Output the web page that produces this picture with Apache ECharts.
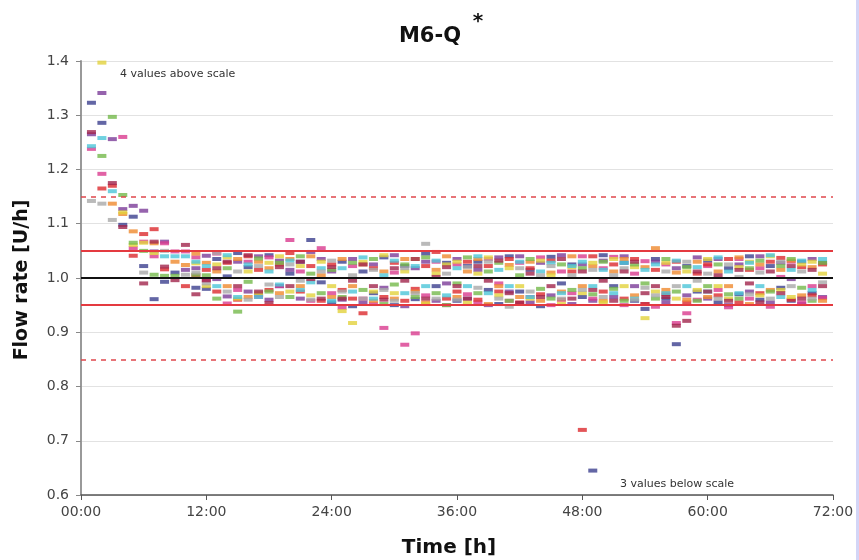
<!DOCTYPE html>
<html><head><meta charset="utf-8">
<script src="https://cdn.jsdelivr.net/npm/echarts@6/dist/echarts.min.js"></script>
<style>html,body{margin:0;padding:0;background:#fff}#c{width:859px;height:560px}</style>
</head><body><div id="c"></div>
<script>
// Time in hours (one reading per hour per device)
const hours = [0,1,2,3,4,5,6,7,8,9,10,11,12,13,14,15,16,17,18,19,20,21,22,23,24,25,26,27,28,29,30,31,32,33,34,35,36,37,38,39,40,41,42,43,44,45,46,47,48,49,50,51,52,53,54,55,56,57,58,59,60,61,62,63,64,65,66,67,68,69,70,71,72];
const xTickLabels = ['00:00','12:00','24:00','36:00','48:00','60:00','72:00'];
const yTickLabels = ['0.6','0.7','0.8','0.9','1.0','1.1','1.2','1.3','1.4'];
const nominal = 1.0;
const innerLimits = [1.05, 0.95];
const outerLimits = [1.15, 0.85];

const s0 = [null,1.323,1.286,null,1.098,1.113,1.022,0.961,0.993,1.010,null,0.982,
  0.980,1.035,1.003,1.046,1.020,0.968,1.042,0.985,1.008,1.030,1.070,0.992,
  0.955,1.030,0.948,1.012,0.972,1.038,0.950,1.022,0.961,1.045,0.985,1.028,
  0.958,1.022,1.030,0.978,0.952,1.040,0.975,1.015,0.948,1.039,0.990,1.025,
  0.965,0.645,1.042,0.985,1.028,0.958,0.943,1.035,0.962,0.878,1.022,0.975,
  1.032,0.955,1.018,0.970,1.040,0.960,1.022,0.982,0.958,1.030,0.972,1.028,null];
const s1 = [null,1.265,1.341,1.256,1.127,1.133,1.124,1.049,1.067,null,1.015,1.018,
  1.041,0.998,0.966,1.030,0.975,1.040,0.960,1.032,1.015,0.962,1.048,1.035,
  1.012,0.960,1.035,0.955,1.025,0.982,1.042,0.948,1.018,1.030,0.958,0.990,
  1.035,0.962,1.015,0.950,1.038,0.975,1.040,0.955,1.028,0.968,1.042,0.952,
  1.025,0.958,1.032,0.965,1.040,0.985,0.952,1.030,0.955,1.018,0.968,1.038,
  0.962,1.035,0.950,1.025,0.975,1.040,0.955,1.028,0.998,0.952,1.035,0.965,null];
const s2 = [null,1.238,1.192,null,1.260,1.055,1.067,1.040,1.064,1.049,1.049,1.038,
  0.995,1.045,0.953,0.978,1.030,0.965,1.038,0.985,1.070,1.012,0.958,1.055,
  0.972,0.945,1.022,0.962,0.952,0.908,1.010,0.877,0.898,0.968,1.030,0.950,
  1.025,0.970,0.955,1.035,0.990,0.958,1.028,0.965,1.038,0.950,1.012,0.972,
  1.040,0.962,1.018,1.039,0.950,1.008,1.031,0.947,1.025,0.917,0.935,0.960,
  1.022,0.978,0.946,1.035,0.962,1.018,0.947,1.002,1.030,0.955,0.985,0.963,null];
const s3 = [null,null,1.165,1.170,null,1.041,1.081,1.090,1.016,null,0.985,1.005,
  1.015,0.975,1.028,0.960,1.040,1.015,0.978,1.025,1.046,0.975,1.022,0.958,
  1.025,0.978,0.962,0.935,1.018,0.965,1.028,0.958,0.980,1.022,1.048,0.962,
  0.975,1.030,0.960,1.022,0.975,1.035,0.955,1.018,0.970,1.032,0.960,1.012,
  0.720,1.040,0.975,1.025,0.962,1.035,0.952,1.015,0.970,1.030,0.955,1.008,
  1.025,0.968,1.035,0.955,1.015,0.972,1.030,1.037,0.960,1.020,0.968,1.025,null];
const s4 = [null,null,null,1.137,1.118,1.086,null,1.064,null,1.030,1.024,1.045,
  1.028,1.012,0.985,1.035,0.965,1.030,1.018,0.972,1.035,0.985,1.040,1.005,
  0.965,1.035,0.985,1.025,0.958,1.012,0.962,1.035,0.975,0.955,1.015,1.040,
  0.965,1.012,1.035,0.952,0.985,1.024,0.965,1.030,0.958,1.010,0.975,1.040,
  0.985,1.022,0.958,1.012,1.035,0.968,1.020,1.055,0.978,1.010,0.960,1.030,
  0.965,1.012,0.985,1.038,0.952,1.025,0.978,1.015,1.032,0.968,1.020,0.958,null];
const s5 = [null,null,1.397,null,1.121,1.061,1.065,1.046,null,null,null,1.027,
  0.985,1.025,1.038,0.962,1.012,0.972,1.028,1.040,0.975,1.022,0.968,1.030,
  0.985,0.939,0.917,1.030,0.975,1.042,0.972,1.012,1.035,0.952,1.008,1.025,
  1.030,0.955,1.008,1.038,0.968,1.018,0.985,0.962,1.032,1.005,0.952,1.020,
  0.972,1.028,0.955,1.035,0.985,1.020,0.926,0.975,1.028,0.962,1.012,0.978,
  1.035,0.985,0.962,1.020,1.030,0.968,1.040,0.978,0.965,1.025,1.030,1.008,null];
const s6 = [null,null,1.225,1.297,1.153,1.065,1.050,1.006,1.004,1.004,null,1.006,
  1.005,0.962,1.018,0.938,0.993,1.036,0.975,1.028,0.965,1.040,1.008,0.972,
  1.015,0.965,1.028,0.978,1.035,0.952,0.988,1.025,0.965,1.038,0.972,0.950,
  0.990,1.038,0.972,1.012,1.028,0.958,1.005,1.035,0.980,0.962,1.025,0.978,
  1.018,0.970,1.030,0.980,0.958,1.025,0.990,0.962,1.035,0.975,1.020,0.958,
  0.985,1.025,0.970,0.962,1.018,1.032,0.975,1.022,1.035,0.982,0.958,1.028,null];
const s7 = [null,1.243,1.258,1.160,null,null,null,null,1.040,1.040,1.040,1.030,
  1.022,0.985,1.042,0.965,1.025,0.965,1.012,0.988,1.032,0.978,0.992,1.018,
  0.958,1.018,0.975,1.038,0.962,1.005,1.032,0.972,1.022,0.985,1.032,0.968,
  1.018,0.985,1.040,0.972,1.015,0.985,1.030,0.965,1.012,1.028,0.972,1.022,
  1.030,0.985,1.015,0.972,1.028,0.962,1.015,1.025,0.972,1.032,0.985,1.020,
  0.975,1.038,1.012,0.972,1.028,0.985,1.042,0.965,1.015,1.032,0.978,1.035,null];
const s8 = [null,1.142,1.137,1.107,null,null,1.010,null,1.050,null,1.006,1.010,
  0.990,1.046,0.975,1.012,0.960,1.022,0.988,0.965,1.025,0.995,0.960,1.012,
  1.032,0.975,1.005,0.962,1.015,0.978,0.958,1.018,0.972,1.063,0.962,1.008,
  0.960,1.020,0.982,1.030,0.962,0.947,1.018,0.975,1.005,1.022,0.962,1.005,
  0.978,1.015,0.965,1.005,1.018,0.960,0.982,0.968,1.012,0.985,1.030,0.995,
  1.008,0.962,1.025,1.002,0.970,1.010,0.962,1.030,0.985,1.012,0.962,0.992,null];
const s9 = [null,1.269,null,1.175,1.094,null,0.990,1.067,1.021,0.996,1.061,0.970,
  0.996,1.018,1.030,0.985,1.042,0.975,0.954,1.020,0.985,1.030,0.998,0.962,
  1.020,0.962,0.995,1.025,0.985,0.960,1.018,0.995,1.035,0.962,1.002,1.020,
  0.985,0.962,1.022,0.995,1.032,0.972,0.954,1.008,0.965,0.985,1.035,0.962,
  1.012,0.978,0.995,0.958,1.012,1.030,0.972,0.985,0.965,0.912,0.921,1.012,
  0.975,1.005,0.958,1.015,0.990,0.955,1.012,0.972,1.022,0.962,1.015,0.985,null];

const seriesValues = [s0,s1,s2,s3,s4,s5,s6,s7,s8,s9];
const colors = ['#3c408e','#7c3c98','#d93b8f','#dc2b2e','#ef8a2e','#e2d23c','#74b94b','#4cc6d8','#a9a9a9','#a1264c'];

const FONT = 'DejaVu Sans';
const chart = echarts.init(document.getElementById('c'), null, {renderer:'canvas'});

const scatterSeries = seriesValues.map((vals, i) => ({
  type: 'scatter',
  name: 'S' + (i+1),
  data: hours.map((h, k) => [h, vals[k]]).filter(p => p[1] !== null && p[1] !== undefined),
  symbol: 'rect',
  symbolSize: [9, 4],
  itemStyle: { color: colors[i] },
  silent: true,
  z: 2
}));

const refSeries = {
  type: 'scatter',
  name: 'ref',
  data: [],
  z: 5,
  silent: true,
  markLine: {
    silent: true,
    symbol: ['none','none'],
    label: { show: false },
    animation: false,
    data: [
      { yAxis: outerLimits[0], lineStyle: { color: '#e0474c', width: 1.5, type: [5,5] } },
      { yAxis: outerLimits[1], lineStyle: { color: '#e0474c', width: 1.5, type: [5,5] } },
      { yAxis: innerLimits[0], lineStyle: { color: '#e43a40', width: 2, type: 'solid' } },
      { yAxis: innerLimits[1], lineStyle: { color: '#e43a40', width: 2, type: 'solid' } },
      { yAxis: nominal, lineStyle: { color: '#111111', width: 2, type: 'solid' } }
    ]
  }
};

const option = {
  animation: false,
  backgroundColor: '#ffffff',
  grid: { left: 81, right: 26, top: 61, bottom: 65, containLabel: false },
  xAxis: {
    type: 'value', min: 0, max: 72, interval: 12,
    axisLine: { show: true, lineStyle: { color: '#555', width: 1.5 } },
    axisTick: { show: true, length: 5, lineStyle: { color: '#555' } },
    splitLine: { show: false },
    axisLabel: { color: '#444', fontFamily: FONT, fontSize: 14, margin: 10,
      formatter: v => xTickLabels[Math.round(v / 12)] }
  },
  yAxis: {
    type: 'value', min: 0.6, max: 1.4, interval: 0.1,
    axisLine: { show: true, lineStyle: { color: '#999', width: 2 } },
    axisTick: { show: true, length: 5, inside: false, lineStyle: { color: '#888' } },
    splitLine: { show: true, lineStyle: { color: '#e2e2e2', width: 1 } },
    axisLabel: { color: '#444', fontFamily: FONT, fontSize: 14, margin: 12,
      formatter: v => yTickLabels[Math.round((v - 0.6) * 10)] }
  },
  graphic: [
    { type: 'text', x: 430, y: 37, style: { text: 'M6-Q', font: 'bold 21px ' + FONT, fill: '#111', textAlign: 'center', textVerticalAlign: 'middle' } },
    { type: 'text', x: 478, y: 22, style: { text: '*', font: 'bold 20px ' + FONT, fill: '#111', textAlign: 'center', textVerticalAlign: 'middle' } },
    { type: 'text', x: 22, y: 280, rotation: Math.PI / 2, style: { text: 'Flow rate [U/h]', font: 'bold 19px ' + FONT, fill: '#111', textAlign: 'center', textVerticalAlign: 'middle' } },
    { type: 'text', x: 449, y: 548, style: { text: 'Time [h]', font: 'bold 20px ' + FONT, fill: '#111', textAlign: 'center', textVerticalAlign: 'middle' } },
    { type: 'text', x: 120, y: 74, style: { text: '4 values above scale', font: '11px ' + FONT, fill: '#333', textAlign: 'left', textVerticalAlign: 'middle' } },
    { type: 'text', x: 620, y: 484, style: { text: '3 values below scale', font: '11px ' + FONT, fill: '#333', textAlign: 'left', textVerticalAlign: 'middle' } },
    { type: 'rect', shape: { x: 856, y: 0, width: 3, height: 560 }, style: { fill: '#d3d5f6' } }
  ],
  series: [...scatterSeries, refSeries]
};
chart.setOption(option);
</script>
</body></html>
